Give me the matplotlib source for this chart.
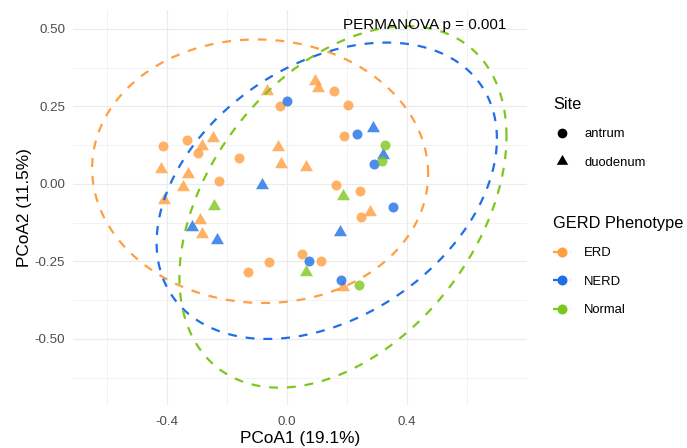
import numpy as np
import matplotlib
matplotlib.use("Agg")
import matplotlib.pyplot as plt
from matplotlib.path import Path
from matplotlib.lines import Line2D

plt.rcParams["font.family"] = ["Liberation Sans", "DejaVu Sans"]
plt.rcParams["axes.unicode_minus"] = False

# PCoA scores, split by GERD phenotype and sampling site
erd_antrum_x = [-0.412, -0.333, -0.296, -0.160, -0.225, -0.023, 0.157, 0.205,
                0.191, 0.164, 0.243, 0.247, 0.051, 0.115, -0.060, -0.131]
erd_antrum_y = [0.122, 0.141, 0.100, 0.083, 0.008, 0.251, 0.299, 0.253,
                0.154, -0.002, -0.022, -0.108, -0.225, -0.249, -0.252, -0.284]
erd_duod_x = [0.095, 0.104, -0.065, -0.283, -0.245, -0.029, -0.018, 0.064,
              -0.420, -0.330, -0.347, -0.411, -0.288, -0.283, 0.276, 0.188]
erd_duod_y = [0.332, 0.310, 0.301, 0.121, 0.149, 0.118, 0.065, 0.055,
              0.048, 0.033, -0.011, -0.051, -0.117, -0.160, -0.090, -0.333]
nerd_antrum_x = [0.002, 0.234, 0.291, 0.355, 0.075, 0.180]
nerd_antrum_y = [0.269, 0.161, 0.064, -0.073, -0.247, -0.309]
nerd_duod_x = [0.288, 0.320, -0.082, -0.316, -0.232, 0.176]
nerd_duod_y = [0.180, 0.094, -0.002, -0.140, -0.182, -0.155]
normal_antrum_x = [0.327, 0.318, 0.242]
normal_antrum_y = [0.125, 0.073, -0.327]
normal_duod_x = [-0.243, 0.186, 0.064]
normal_duod_y = [-0.070, -0.038, -0.285]

# 95% ellipse per phenotype: centre and covariance (xx, yy, xy)
phenotypes = ["ERD", "NERD", "Normal"]
ellipse_center = {"ERD": (-0.089, 0.041), "NERD": (0.133, -0.022), "Normal": (0.187, -0.074)}
ellipse_cov = {"ERD": (0.3136, 0.1806, -0.005),
               "NERD": (0.3215, 0.2285, 0.095),
               "Normal": (0.2970, 0.3400, 0.124)}

sites = ["antrum", "duodenum"]
x_ticks = [-0.4, 0.0, 0.4]
x_tick_labels = ["-0.4", "0.0", "0.4"]
y_ticks = [-0.5, -0.25, 0.0, 0.25, 0.5]
y_tick_labels = ["-0.50", "-0.25", "0.00", "0.25", "0.50"]

colors = {"ERD": "#FF9F40", "NERD": "#1F6FE8", "Normal": "#7DC71C"}

# equilateral triangle centred on its circumcentre
tri = Path([(0, 1), (-0.866, -0.5), (0.866, -0.5), (0, 1)],
           [Path.MOVETO, Path.LINETO, Path.LINETO, Path.CLOSEPOLY])
markers = {"antrum": "o", "duodenum": tri}
msize = {"antrum": 7.2, "duodenum": 10.8}

groups = [
    ("ERD", "antrum", erd_antrum_x, erd_antrum_y),
    ("ERD", "duodenum", erd_duod_x, erd_duod_y),
    ("NERD", "antrum", nerd_antrum_x, nerd_antrum_y),
    ("NERD", "duodenum", nerd_duod_x, nerd_duod_y),
    ("Normal", "antrum", normal_antrum_x, normal_antrum_y),
    ("Normal", "duodenum", normal_duod_x, normal_duod_y),
]

fig = plt.figure(figsize=(6.87, 4.48), dpi=100)
ax = fig.add_axes([72.9 / 687, 43 / 448, 454 / 687, 395 / 448])

for pheno, site, xs, ys in groups:
    ax.scatter(xs, ys, marker=markers[site], s=msize[site] ** 2,
               color=colors[pheno], alpha=0.8, linewidths=0, zorder=3)

t = np.linspace(0, 2 * np.pi, 400)
for pheno in phenotypes:
    sxx, syy, sxy = ellipse_cov[pheno]
    L = np.linalg.cholesky(np.array([[sxx, sxy], [sxy, syy]]))
    pts = np.array(ellipse_center[pheno])[:, None] + L @ np.vstack([np.cos(t), np.sin(t)])
    ax.plot(pts[0], pts[1], color=colors[pheno], lw=1.6,
            linestyle=(0, (4, 4)), zorder=4)

ax.text(0.458, 0.501, "PERMANOVA p = 0.001", ha="center", va="baseline",
        fontsize=11, color="black", zorder=5)

ax.set_xlim(-0.713, 0.80)
ax.set_ylim(-0.713, 0.561)
ax.set_xticks(x_ticks)
ax.set_xticklabels(x_tick_labels)
ax.set_yticks(y_ticks)
ax.set_yticklabels(y_tick_labels)
ax.set_xticks([-0.6, -0.2, 0.2, 0.6], minor=True)
ax.set_yticks([-0.625, -0.375, -0.125, 0.125, 0.375], minor=True)
ax.grid(which="major", color="#EBEBEB", lw=0.85)
ax.grid(which="minor", color="#EBEBEB", lw=0.45)
ax.set_axisbelow(True)
for s in ax.spines.values():
    s.set_visible(False)
ax.tick_params(which="both", length=0)
ax.tick_params(axis="both", labelsize=9.6, labelcolor="#4D4D4D")
ax.tick_params(axis="x", pad=7.6)
ax.tick_params(axis="y", pad=5.5)

ax.set_xlabel("PCoA1 (19.1%)", fontsize=12.45, color="black", labelpad=2.5)
ax.set_ylabel("PCoA2 (11.5%)", fontsize=12.45, color="black", labelpad=2)

# legends
leg_kw = dict(loc="upper left", frameon=False, fontsize=9.4, title_fontsize=11.8,
              alignment="left", handlelength=1.4, handletextpad=1.0,
              labelspacing=1.25, borderpad=0, borderaxespad=0)

site_handles = [Line2D([], [], ls="", marker=markers[s], color="black",
                       markersize=7.0 if s == "antrum" else 9.5, markeredgewidth=0)
                for s in sites]
leg1 = fig.legend(site_handles, sites, title="Site",
                  bbox_to_anchor=(553 / 687, 1 - 97 / 448), **leg_kw)

pheno_handles = [Line2D([], [], color=colors[p], lw=1.6, linestyle=(0, (4, 4)),
                        marker="o", markersize=7.2, markeredgewidth=0)
                 for p in phenotypes]
leg2 = fig.legend(pheno_handles, phenotypes, title="GERD Phenotype",
                  bbox_to_anchor=(553 / 687, 1 - 216 / 448), **leg_kw)

fig.savefig("out.png", dpi=100)
